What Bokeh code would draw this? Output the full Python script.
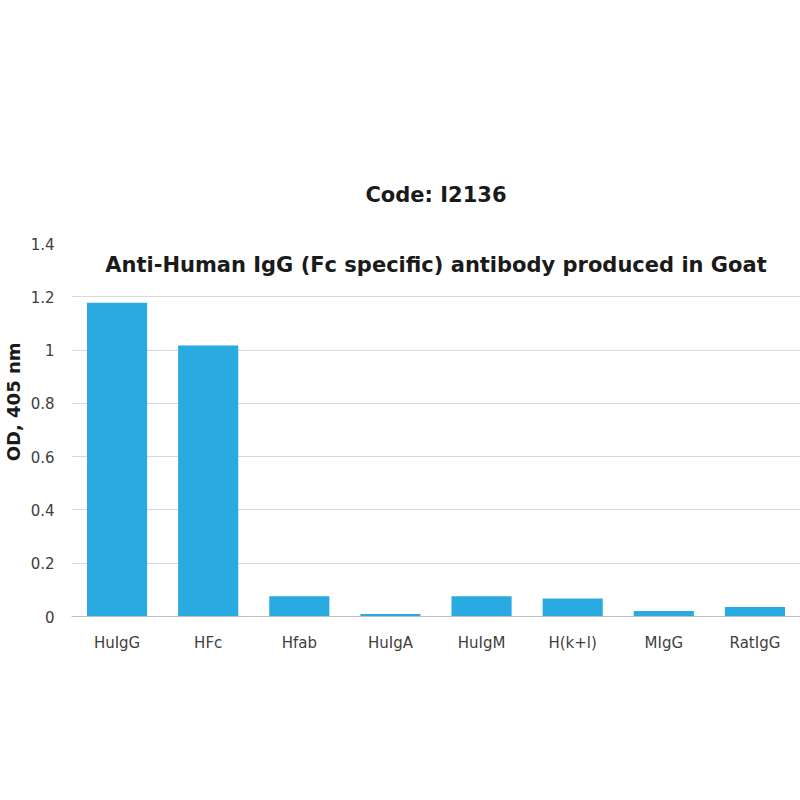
from bokeh.plotting import figure
from bokeh.models import FactorRange, Title, NumeralTickFormatter, FixedTicker
from bokeh.embed import file_html
from bokeh.resources import INLINE

categories = ["HuIgG", "HFc", "Hfab", "HuIgA", "HuIgM", "H(k+l)", "MIgG", "RatIgG"]
od_values = [1.178, 1.017, 0.076, 0.009, 0.076, 0.068, 0.021, 0.036]
y_ticks = [0, 0.2, 0.4, 0.6, 0.8, 1.0, 1.2, 1.4]
title_main = "Anti-Human IgG (Fc specific) antibody produced in Goat"
title_code = "Code: I2136"
y_label = "OD, 405 nm"

p = figure(x_range=FactorRange(*categories, range_padding=0), y_range=(0, 1.4),
           width=800, height=800, output_backend="svg", toolbar_location=None,
           min_border_left=71, min_border_right=0, min_border_top=243, min_border_bottom=184)

p.vbar(x=categories, top=od_values, width=0.66, color="#29ABE2", line_color=None)

# second title line (closest to the plot)
p.title.text = title_code
p.title.align = "center"
p.title.text_font = "DejaVu Sans"
p.title.text_font_style = "bold"
p.title.text_font_size = "21px"
p.title.text_color = "#1a1a1a"
p.title.standoff = 73

# first title line, pulled down close to the second one
main = Title(text=title_main, align="center", text_font="DejaVu Sans",
             text_font_style="bold", text_font_size="21px", text_color="#1a1a1a",
             standoff=-67)
p.add_layout(main, "above")

ylab = Title(text=y_label, align="right", vertical_align="top", offset=99, standoff=4,
             text_font="DejaVu Sans", text_font_style="bold", text_font_size="18px",
             text_color="#1a1a1a")
p.add_layout(ylab, "left")

p.outline_line_color = None
p.xgrid.grid_line_color = None
p.ygrid.grid_line_color = "#d9d9d9"
p.ygrid.ticker = FixedTicker(ticks=y_ticks)

p.yaxis.ticker = FixedTicker(ticks=y_ticks)
p.yaxis.formatter = NumeralTickFormatter(format="0.[0]")
p.yaxis.axis_line_color = None
p.yaxis.major_tick_line_color = None
p.yaxis.minor_tick_line_color = None
p.yaxis.major_label_text_font = "DejaVu Sans"
p.yaxis.major_label_text_font_size = "15px"
p.yaxis.major_label_text_color = "#404040"
p.yaxis.major_label_standoff = 11

p.xaxis.axis_line_color = "#bfbfbf"
p.xaxis.major_tick_line_color = None
p.xaxis.minor_tick_line_color = None
p.xaxis.major_label_text_font = "DejaVu Sans"
p.xaxis.major_label_text_font_size = "15px"
p.xaxis.major_label_text_color = "#404040"
p.xaxis.major_label_standoff = 11

open("out.html", "w").write(file_html(p, INLINE))
